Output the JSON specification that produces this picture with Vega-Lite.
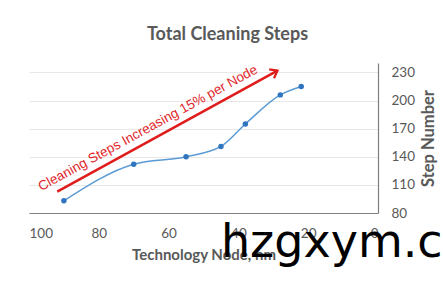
{
  "$schema": "https://vega.github.io/schema/vega-lite/v6.json",
  "width": 349,
  "height": 150,
  "autosize": {"type": "none"},
  "padding": {"left": 29, "top": 63, "right": 65, "bottom": 76},
  "background": "white",
  "title": {"text": "Total Cleaning Steps", "font": "Lato", "fontSize": 18, "fontWeight": "bold", "color": "#595959", "anchor": "middle", "dx": 24, "offset": 19},
  "config": {"view": {"stroke": null}},
  "datasets": {
    "steps": [
      {"node": 90, "steps": 93},
      {"node": 70, "steps": 132},
      {"node": 55, "steps": 140},
      {"node": 45, "steps": 151},
      {"node": 38, "steps": 175},
      {"node": 28, "steps": 206},
      {"node": 22, "steps": 215}
    ],
    "arrow": [{"node": 91.9, "steps": 102.7, "node2": 28.8, "steps2": 231.9}],
    "arrowhead": [{"node": 28.8, "steps": 231.9}],
    "label": [{"node": 65.9, "steps": 170.4, "text": "Cleaning Steps Increasing 15% per Node"}],
    "mark": [{"node": 45, "steps": 33.3, "text": "hzgxym.co"}]
  },
  "encoding": {
    "x": {
      "field": "node", "type": "quantitative",
      "scale": {"domain": [0, 100], "reverse": true, "nice": false},
      "axis": {"orient": "bottom", "values": [0, 20, 40, 60, 80, 100], "grid": false, "ticks": false, "domainColor": "#7f7f7f", "domainWidth": 1.2, "labelPadding": 13, "labelFont": "Lato", "labelFontSize": 13.5, "labelColor": "#595959", "title": "Technology Node, nm", "titleFont": "Lato", "titleFontSize": 15, "titleFontWeight": "bold", "titleColor": "#595959", "titlePadding": 8}
    },
    "y": {
      "field": "steps", "type": "quantitative",
      "scale": {"domain": [80, 240], "nice": false, "zero": false},
      "axis": {"orient": "right", "values": [80, 110, 140, 170, 200, 230], "grid": true, "gridColor": "#e8e8e8", "ticks": false, "domainColor": "#7f7f7f", "domainWidth": 1.2, "labelPadding": 13, "labelFont": "Lato", "labelFontSize": 13.5, "labelColor": "#595959", "title": "Step Number", "titleAngle": 270, "titleX": 50, "titleY": 75, "titleAlign": "center", "titleBaseline": "middle", "titleFont": "Lato", "titleFontSize": 16.5, "titleFontWeight": "bold", "titleColor": "#595959"}
    }
  },
  "layer": [
    {
      "data": {"name": "steps"},
      "mark": {"type": "line", "interpolate": "monotone", "color": "#5b9bd5", "strokeWidth": 1.5}
    },
    {
      "data": {"name": "steps"},
      "mark": {"type": "point", "filled": true, "color": "#2f75c0", "size": 30, "opacity": 1}
    },
    {
      "data": {"name": "arrow"},
      "mark": {"type": "rule", "color": "#e01b1b", "strokeWidth": 2.5},
      "encoding": {"x2": {"field": "node2"}, "y2": {"field": "steps2"}}
    },
    {
      "data": {"name": "arrowhead"},
      "mark": {"type": "point", "shape": "M-1,-0.75L0,0L-1,0.75", "filled": false, "color": "#e01b1b", "strokeWidth": 2.2, "size": 180, "angle": -28.7, "opacity": 1}
    },
    {
      "data": {"name": "label"},
      "mark": {"type": "text", "font": "Liberation Sans", "fontSize": 13.5, "color": "#e0262a", "angle": -28.7, "align": "center", "baseline": "middle"},
      "encoding": {"text": {"field": "text"}}
    },
    {
      "data": {"name": "mark"},
      "mark": {"type": "text", "font": "DejaVu Sans", "fontSize": 46, "color": "#000000", "align": "left", "baseline": "alphabetic"},
      "encoding": {"text": {"field": "text"}}
    }
  ]
}
